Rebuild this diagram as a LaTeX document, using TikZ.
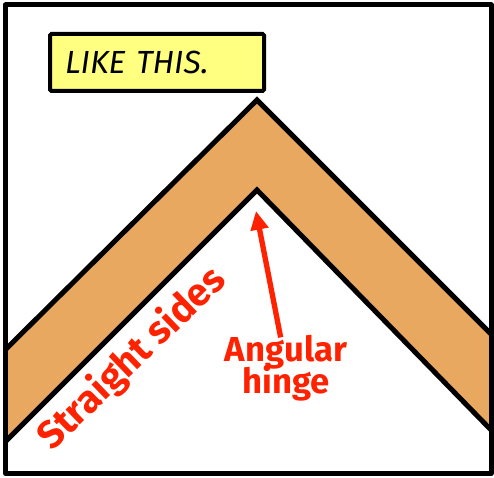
\documentclass[tikz,border=0pt]{standalone}
\usepackage{fontspec}
\setmainfont{Fira Sans}
\usetikzlibrary{arrows.meta}

\definecolor{bandtan}{RGB}{232,168,96}
\definecolor{notered}{RGB}{255,34,0}
\definecolor{boxyellow}{RGB}{255,255,128}

\begin{document}
\begin{tikzpicture}[
  x=0.75pt, y=-0.75pt,
  frameline/.style={line width=3.75pt, line join=round},
  bandline/.style={line width=3.75pt, line join=miter},
  labelbox/.style={draw, fill=boxyellow, line width=3pt, rounded corners=1pt,
    minimum width=160.5pt, minimum height=42.75pt, text width=138pt,
    inner xsep=10pt, align=left, font=\itshape\fontsize{24}{26}\selectfont},
  redtext/.style={text=notered, font=\bfseries\fontsize{26}{28}\selectfont, inner sep=0pt},
  redarrow/.style={draw=notered, line width=4pt, -{Triangle[length=14pt,width=13pt]}}
]
\useasboundingbox (0,0) rectangle (494,478);

% band corners
\coordinate (outL) at (0,355);
\coordinate (outTop) at (257,100);
\coordinate (outR) at (494,337);
\coordinate (inR) at (494,433);
\coordinate (inTop) at (257,190);
\coordinate (inL) at (0,447);

\fill[bandtan] (outL) -- (outTop) -- (outR) -- (inR) -- (inTop) -- (inL) -- cycle;
\draw[bandline] (outL) -- (outTop) -- (outR);
\draw[bandline] (inL) -- (inTop) -- (inR);

% panel frame
\fill[white] (0,0) rectangle (494,3) (0,0) rectangle (3,478);
\fill[white] (494,478) rectangle (0,476) (494,478) rectangle (493,0);
\draw[frameline] (5.5,5) rectangle (491,473.5);

\node[labelbox, anchor=north west] (likebox) at (48,32) {LIKE THIS.};

\node[redtext, rotate=44, font=\bfseries\fontsize{29}{30}\selectfont] (sides) at (132,359) {Straight sides};
\node[redtext, align=center] (hinge) at (286,368) {Angular\\[-4pt]hinge};
\coordinate (hingetip) at (256,211);
\draw[redarrow] (hinge.north) ++(-4pt,-2pt) -- (hingetip);
\end{tikzpicture}
\end{document}
